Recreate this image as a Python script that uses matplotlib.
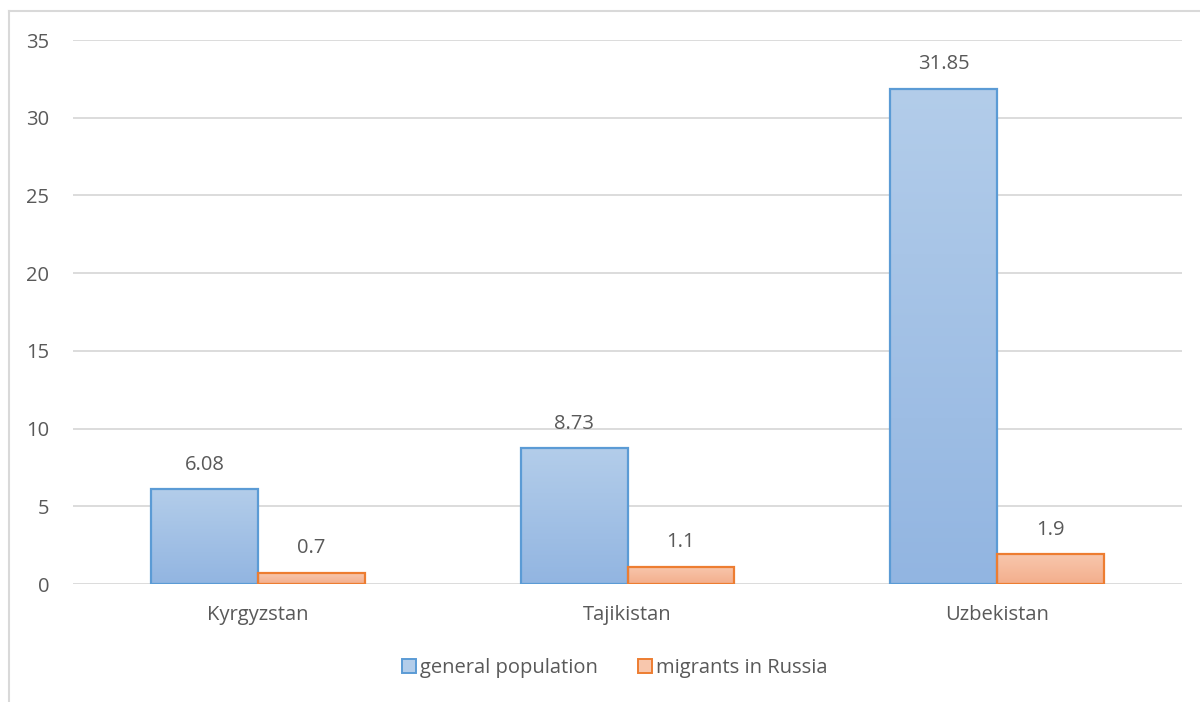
import numpy as np
import matplotlib.pyplot as plt
from matplotlib.colors import LinearSegmentedColormap
from matplotlib.lines import Line2D
from matplotlib.patches import Patch

plt.rcParams['font.family'] = ['Open Sans', 'DejaVu Sans']

countries = ['Kyrgyzstan', 'Tajikistan', 'Uzbekistan']
general_population = [6.08, 8.73, 31.85]
migrants_in_russia = [0.7, 1.1, 1.9]
series_names = ['general population', 'migrants in Russia']

text_gray = '#595959'
grid_gray = '#d9d9d9'

# (top colour, bottom colour, edge colour) for each series
styles = [
    ('#b3cdea', '#92b5e1', '#5b9bd5'),
    ('#f8c7ad', '#f3ae8c', '#ed7d31'),
]

fig = plt.figure(figsize=(12, 7.02), dpi=100)
ax = fig.add_axes([73 / 1200, 118 / 702, 1109 / 1200, 544 / 702])

x = np.arange(len(countries))
width = 0.289
offsets = [-width / 2, width / 2]
grad = np.linspace(1, 0, 256).reshape(-1, 1)

for values, off, (top, bottom, edge) in zip([general_population, migrants_in_russia], offsets, styles):
    cmap = LinearSegmentedColormap.from_list('grad', [bottom, top])
    bars = ax.bar(x + off, values, width, facecolor='none', edgecolor=edge, linewidth=1.6, zorder=3)
    for b, v in zip(bars, values):
        x0 = b.get_x()
        im = ax.imshow(grad, cmap=cmap, extent=(x0, x0 + b.get_width(), 0, v),
                       aspect='auto', zorder=2, vmin=0, vmax=1)
        im.set_clip_path(b)
        ax.text(b.get_x() + b.get_width() / 2, v + 0.95, f'{v:g}', ha='center', va='bottom',
                fontsize=14.5, color=text_gray)

ax.set_xlim(-0.5, 2.5)
ax.set_ylim(0, 35)
ax.set_yticks(range(0, 36, 5))
ax.set_xticks(x)
ax.set_xticklabels(countries)
ax.grid(axis='y', color=grid_gray, linewidth=1.3, zorder=0)
ax.set_axisbelow(True)
for s in ax.spines.values():
    s.set_visible(False)
ax.tick_params(length=0, labelsize=14.5, labelcolor=text_gray)
ax.tick_params(axis='y', pad=17)
ax.tick_params(axis='x', pad=15)

handles = [Patch(facecolor=st[0], edgecolor=st[2], linewidth=1.4) for st in styles]
fig.legend(handles, series_names, loc='center', bbox_to_anchor=(615 / 1200, 1 - 668 / 702),
           ncol=2, frameon=False, fontsize=14.5, labelcolor=text_gray,
           handlelength=0.7, handleheight=0.7, handletextpad=0.2, columnspacing=2.0)

# chart frame (left and top edges)
fig.add_artist(Line2D([9 / 1200, 9 / 1200], [0, 1 - 11 / 702], color=grid_gray, linewidth=1.5))
fig.add_artist(Line2D([9 / 1200, 1], [1 - 11 / 702, 1 - 11 / 702], color=grid_gray, linewidth=1.5))

fig.savefig('out.png', dpi=100, facecolor='white')
